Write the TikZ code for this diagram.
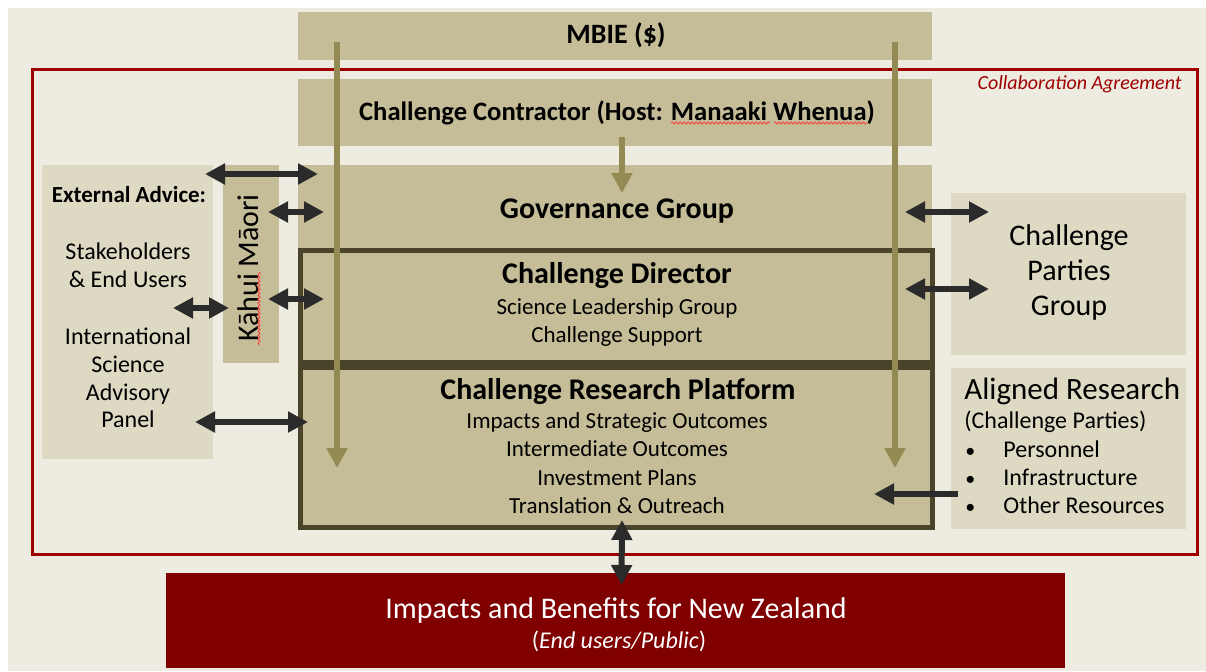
\documentclass[tikz,border=0pt]{standalone}
\usepackage{fontspec}
\setmainfont{Carlito}
\usetikzlibrary{arrows.meta}
\usetikzlibrary{fit}
\usetikzlibrary{decorations.pathmorphing}

\definecolor{bgtan}{HTML}{EEECE1}
\definecolor{lighttan}{HTML}{DDD9C3}
\definecolor{midtan}{HTML}{C4BD97}
\definecolor{flowolive}{HTML}{948A54}
\definecolor{darkolive}{HTML}{4A452A}
\definecolor{nzred}{HTML}{800000}
\definecolor{framered}{HTML}{9E0000}
\definecolor{linkgrey}{HTML}{2B2B2B}

\tikzset{
  tanbox/.style={fill=midtan, inner sep=0pt, outer sep=0pt},
  lightbox/.style={fill=lighttan, inner sep=0pt, outer sep=0pt},
  corebox/.style={fill=midtan, draw=darkolive, line width=2.5pt, inner sep=0pt, outer sep=0pt},
  flow/.style={draw=flowolive, line width=3pt, -{Triangle[width=10pt,length=10pt]}},
  link/.style={draw=linkgrey, line width=3pt, {Triangle[width=10pt,length=10pt]}-{Triangle[width=10pt,length=10pt]}},
  feed/.style={draw=linkgrey, line width=3pt, -{Triangle[width=10pt,length=10pt]}},
  spell/.style={draw=red!75, line width=0.4pt, decorate, decoration={snake, amplitude=0.5pt, segment length=2pt}},
  head/.style={anchor=base, font=\bfseries\fontsize{14}{17}\selectfont},
  title/.style={anchor=base, font=\bfseries\fontsize{15}{18}\selectfont},
  entry/.style={anchor=base, font=\fontsize{11.5}{14}\selectfont},
  advice/.style={anchor=base, font=\fontsize{12}{14}\selectfont},
  partytext/.style={anchor=base, font=\fontsize{15}{18}\selectfont},
  aligned/.style={anchor=base west, inner sep=0pt, font=\fontsize{12}{14}\selectfont},
}

\begin{document}
\begin{tikzpicture}[x=0.5pt,y=-0.5pt]
\fill[white] (0,0) rectangle (1206,671);
\useasboundingbox (0,0) rectangle (1206,671);
\fill[bgtan] (8,8) rectangle (1206,671);

% boxes
\node[tanbox, fit={(298,12) (932,60)}] (mbie) {};
\node[draw=framered, line width=1.5pt, inner sep=0pt, fit={(32,69) (1197,554)}] (collab) {};
\node[tanbox, fit={(298,79) (932,146)}] (contr) {};
\node[tanbox, fit={(298,165) (932,252)}] (gov) {};
\node[lightbox, fit={(42,165) (213,459)}] (ext) {};
\node[tanbox, fit={(223,165) (279,363)}] (kahui) {};
\node[corebox, fit={(300,250) (932,362)}] (dir) {};
\node[corebox, fit={(300,367) (932,527)}] (plat) {};
\node[lightbox, fit={(951,193) (1186,355)}] (parties) {};
\node[lightbox, fit={(951,368) (1186,529)}] (align) {};
\node[fill=nzred, inner sep=0pt, outer sep=0pt, fit={(166,573) (1065,668)}] (nz) {};

% texts
\node[head] (mbietext) at (616,43) {MBIE (\$)};
\node[head, font=\bfseries\fontsize{13.3}{16}\selectfont] (contrtext) at (617,120) {Challenge Contractor (Host: Manaaki Whenua)};
\node[title] (govtext) at (617,218) {Governance Group};
\node[title] (dirtext) at (617,283) {Challenge Director};
\node[entry] (slg) at (617,314) {Science Leadership Group};
\node[entry] (support) at (617,342) {Challenge Support};
\node[title] (plattext) at (618,399) {Challenge Research Platform};
\node[entry] (impacts) at (617,428) {Impacts and Strategic Outcomes};
\node[entry] (inter) at (617,456) {Intermediate Outcomes};
\node[entry] (invest) at (617,485) {Investment Plans};
\node[entry] (transl) at (617,513) {Translation \& Outreach};
\node[anchor=base, font=\bfseries\fontsize{11.5}{14}\selectfont] (exttext) at (129,202) {External Advice:};
\node[advice] (stake) at (128,259) {Stakeholders};
\node[advice] (endusers) at (128,287) {\& End Users};
\node[advice] (intl) at (128,344) {International};
\node[advice] (science) at (128,372) {Science};
\node[advice] (advisory) at (128,400) {Advisory};
\node[advice] (panel) at (128,427) {Panel};
\node[anchor=base, rotate=90, font=\fontsize{15}{18}\selectfont] (kahuitext) at (258,268) {Kāhui Māori};
\node[partytext] (party1) at (1069,245) {Challenge};
\node[partytext] (party2) at (1069,280) {Parties};
\node[partytext] (party3) at (1069,315) {Group};
\node[aligned, font=\fontsize{15.5}{18}\selectfont] (aligntext) at (964,399) {Aligned Research};
\node[aligned] (cparties) at (964,428) {(Challenge Parties)};
\node[aligned, font=\fontsize{10}{12}\selectfont] (b1) at (965,457) {•};
\node[aligned] (personnel) at (1003,457) {Personnel};
\node[aligned, font=\fontsize{10}{12}\selectfont] (b2) at (965,485) {•};
\node[aligned] (infra) at (1003,485) {Infrastructure};
\node[aligned, font=\fontsize{10}{12}\selectfont] (b3) at (965,513) {•};
\node[aligned] (other) at (1003,513) {Other Resources};
\node[anchor=base, text=white, font=\fontsize{15}{18}\selectfont] (nztext) at (616,618) {Impacts and Benefits for New Zealand};
\node[anchor=base, text=white, font=\fontsize{12}{14}\selectfont] (nzsub) at (619,648) {(\textit{End users/Public})};
\node[anchor=base east, inner sep=0pt, text=framered, font=\itshape\fontsize{10}{12}\selectfont] (collabtext) at (1182,89) {Collaboration Agreement};

% spelling marks
\draw[spell] ([shift={(1,2)}]kahuitext.base) ++(0,2) coordinate (k1) -- ++(0,73) coordinate (k2);
\draw[spell] (671,123) -- (770,123);
\draw[spell] (774,123) -- (868,123);

% funding lines
\draw[flow] ([shift={(39,30)}]mbie.north west) -- ([shift={(37,-59)}]plat.south west);
\draw[flow] ([shift={(-37,30)}]mbie.north east) -- ([shift={(-37,-59)}]plat.south east);
\draw[flow] ([shift={(7,-9)}]contr.south) -- ([shift={(7,28)}]gov.north);

% links
\draw[link] ([shift={(-8,9)}]ext.north east) -- ([shift={(20,9)}]gov.north west);
\draw[link] ([shift={(-11,47)}]kahui.north east) -- ([shift={(26,47)}]gov.north west);
\draw[link] ([shift={(-11,134)}]kahui.north east) -- ([shift={(24,49)}]dir.north west);
\draw[link] ([shift={(-40,143)}]ext.north east) -- ([shift={(6,143)}]kahui.north west);
\draw[link] ([shift={(-18,-37)}]ext.south east) -- ([shift={(8,55)}]plat.north west);
\draw[link] ([shift={(-27,47)}]gov.north east) -- ([shift={(38,19)}]parties.north west);
\draw[link] ([shift={(-27,39)}]dir.north east) -- ([shift={(38,96)}]parties.north west);
\draw[feed] ([shift={(7,126)}]align.north west) -- ([shift={(-58,-33)}]plat.south east);
\draw[link] ([shift={(6,-7)}]plat.south) -- ([shift={(6,12)}]nz.north);
\end{tikzpicture}
\end{document}
